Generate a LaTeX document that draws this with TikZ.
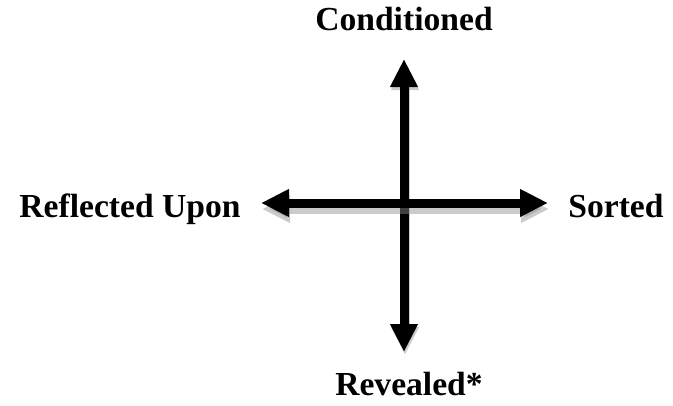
\documentclass[tikz,border=0pt]{standalone}
\usepackage{fontspec}
\setmainfont{Liberation Serif}
\usetikzlibrary{arrows.meta}
\tikzset{
  axislabel/.style={font=\fontsize{33.6}{40}\selectfont\bfseries, anchor=base,
    inner sep=0pt},
  axisarrow/.style={{Triangle[length=28pt,width=26pt]}-{Triangle[length=28pt,width=26pt]},
    line width=9pt, draw=black, fill=black},
  axisshadow/.style={axisarrow, draw=black!45, fill=black!45, opacity=0.45},
}

\begin{document}
\begin{tikzpicture}[x=1pt, y=-1pt]
  \useasboundingbox (0,0) rectangle (673,405);

  % Arrow tips
  \coordinate (top) at (404,59);
  \coordinate (bot) at (404,352);
  \coordinate (lft) at (261,203);
  \coordinate (rgt) at (548,203);

  % Labels
  \node[axislabel] (cond) at (404,30)  {Conditioned};
  \node[axislabel] (refl) at (130,217) {Reflected Upon};
  \node[axislabel] (sort) at (616,217) {Sorted};
  \node[axislabel] (reve) at (409,395) {Revealed*};

  % Vertical axis
  \draw[axisshadow] ([shift={(1,3)}]bot) -- ([shift={(1,3)}]top);
  \draw[axisarrow] (bot) -- (top);

  % Horizontal axis
  \draw[axisshadow] ([shift={(1,6)}]lft) -- ([shift={(1,6)}]rgt);
  \draw[axisarrow] (lft) -- (rgt);
\end{tikzpicture}
\end{document}
